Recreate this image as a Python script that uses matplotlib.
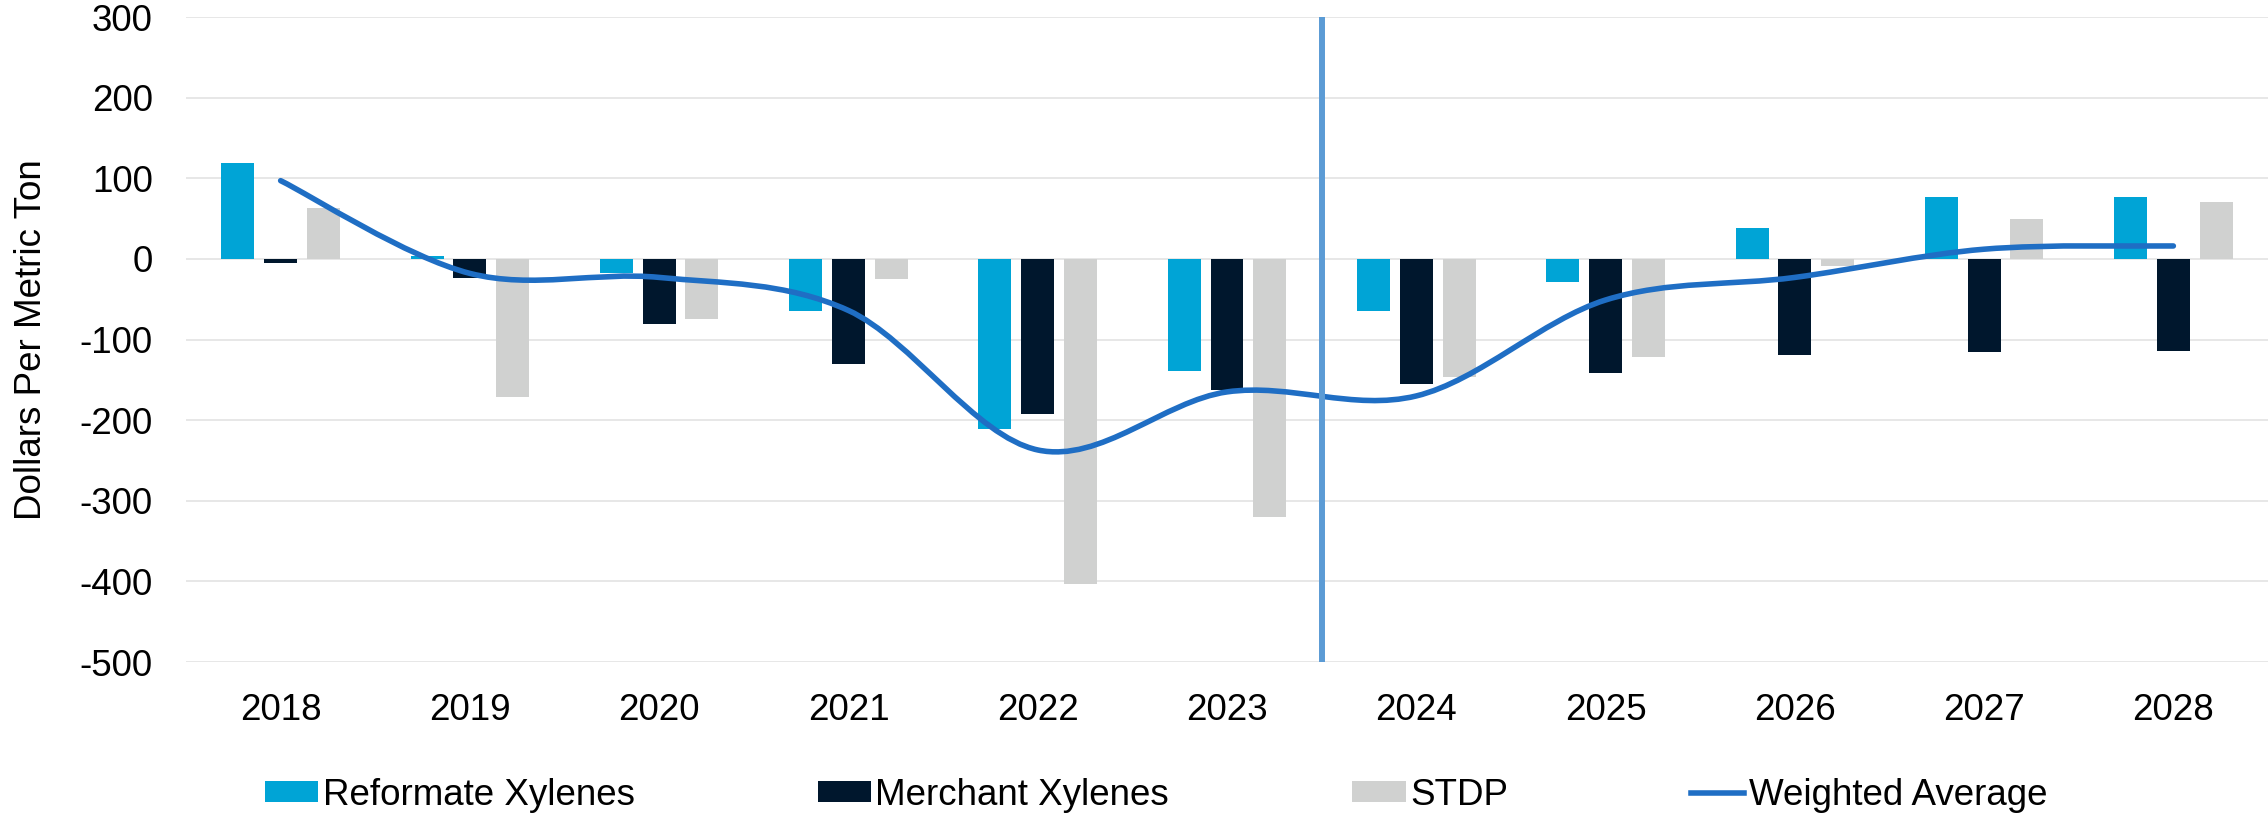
import matplotlib
matplotlib.use("Agg")
import matplotlib.pyplot as plt
from matplotlib.path import Path
from matplotlib.patches import PathPatch
from matplotlib.lines import Line2D
import numpy as np

plt.rcParams['font.family'] = ['Liberation Sans', 'DejaVu Sans']
plt.rcParams['axes.unicode_minus'] = False

years = ['2018', '2019', '2020', '2021', '2022', '2023',
         '2024', '2025', '2026', '2027', '2028']
reformate = [119, 4, -18, -65, -211, -139, -65, -29, 38, 77, 77]
merchant = [-5, -24, -81, -130, -192, -163, -155, -142, -119, -116, -114]
stdp = [63, -171, -74, -25, -403, -320, -147, -122, -9, 49, 70]
weighted = [97, -18, -23, -64, -237, -165, -170, -51, -23, 12, 16]

col_ref = '#00A4D6'
col_mer = '#00172D'
col_std = '#D0D1D0'
col_avg = '#1F6EC4'
col_div = '#5B9BD5'

fs = 26.5


def smooth_path(xs, ys):
    """ Excel-style smoothed line as cubic bezier segments. """
    xs = list(xs)
    ys = list(ys)
    px = [xs[0]] + xs + [xs[-1]]
    py = [ys[0]] + ys + [ys[-1]]
    verts = [(xs[0], ys[0])]
    codes = [Path.MOVETO]
    for i in range(1, len(px) - 2):
        c1 = (px[i] + (px[i + 1] - px[i - 1]) / 6, py[i] + (py[i + 1] - py[i - 1]) / 6)
        c2 = (px[i + 1] - (px[i + 2] - px[i]) / 6, py[i + 1] - (py[i + 2] - py[i]) / 6)
        verts += [c1, c2, (px[i + 1], py[i + 1])]
        codes += [Path.CURVE4] * 3
    return Path(verts, codes)


fig = plt.figure(figsize=(22.68, 8.22), dpi=100)
ax = fig.add_axes([186 / 2268, 1 - 662 / 822, 1 - 186 / 2268, (662 - 17) / 822])

x = np.arange(len(years))
w = 0.174
step = 0.226
ax.bar(x - step, reformate, w, color=col_ref, label='Reformate Xylenes', zorder=2)
ax.bar(x, merchant, w, color=col_mer, label='Merchant Xylenes', zorder=2)
ax.bar(x + step, stdp, w, color=col_std, label='STDP', zorder=2)

# Smoothed weighted average line
patch = PathPatch(smooth_path(x, weighted), fill=False, edgecolor=col_avg,
                  linewidth=4, capstyle='round', zorder=3)
ax.add_patch(patch)

# Divider between actuals and forecast
ax.axvline(5.5, color=col_div, linewidth=4.3, zorder=4)

ax.set_xlim(-0.5, len(years) - 0.5)
ax.set_ylim(-500, 300)
ax.set_yticks(range(-500, 301, 100))
ax.set_xticks(x)
ax.set_xticklabels(years)
ax.tick_params(axis='both', length=0, labelsize=fs)
ax.tick_params(axis='x', pad=22)
ax.tick_params(axis='y', pad=24)
ax.grid(axis='y', color='#E3E3E3', linewidth=1.2, zorder=0)
ax.set_axisbelow(True)
for s in ax.spines.values():
    s.set_visible(False)

ax.set_ylabel('Dollars Per Metric Ton', fontsize=fs)
ax.yaxis.set_label_coords(-0.066, 0.5)

handles, labels = ax.get_legend_handles_labels()
handles.append(Line2D([], [], color=col_avg, linewidth=4))
labels.append('Weighted Average')
fig.legend(handles, labels, loc='center left', bbox_to_anchor=(265 / 2268, 1 - 795 / 822),
           ncol=4, frameon=False, fontsize=fs, borderpad=0, borderaxespad=0,
           handlelength=1.45, handleheight=0.49, handletextpad=0.12,
           columnspacing=4.97)

fig.savefig('out.png', dpi=100)
